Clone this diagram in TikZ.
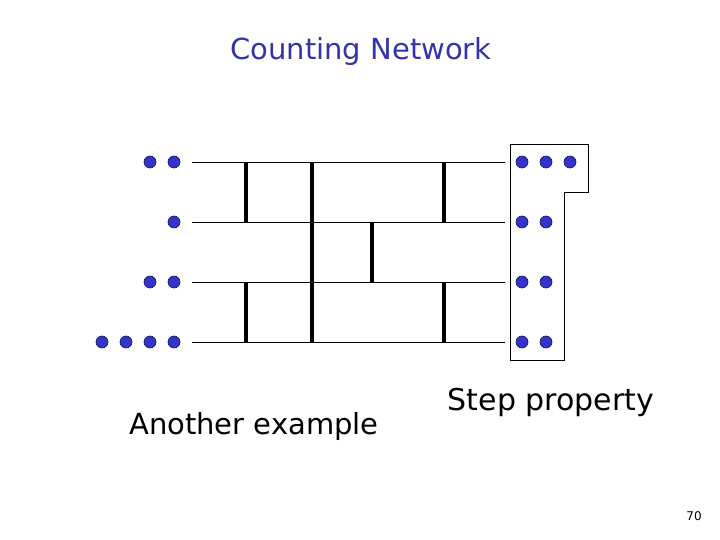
\documentclass[tikz,border=0pt]{standalone}
\usepackage{fontspec}
\setmainfont{DejaVu Sans}
\usepackage{xcolor}
\usetikzlibrary{positioning}
\definecolor{tokenblue}{RGB}{51,51,204}
\definecolor{tokenedge}{RGB}{20,20,90}
\definecolor{titleblue}{RGB}{51,51,170}

\begin{document}
\begin{tikzpicture}[
        x=1pt, y=-1pt,
        dot/.style={circle, draw=tokenedge, fill=tokenblue, line width=0.6pt,
            inner sep=0pt, minimum size=12pt},
        wire/.style={line width=0.9pt},
        bal/.style={line width=3.3pt},
        label/.style={font=\fontsize{29}{32}\selectfont}
    ]
        \useasboundingbox (0,0) rectangle (720,540);
        \node[label, text=titleblue] (title) at (361,52) {Counting Network};

        % wires
        \foreach \i/\y in {1/162,2/222,3/282,4/342} {
            \coordinate (w\i s) at (192,\y);
            \coordinate (w\i e) at (505,\y);
            \draw[wire] (w\i s) -- (w\i e);
        }

        % balancers
        \coordinate (a1) at (246,162); \coordinate (a2) at (246,222);
        \coordinate (a3) at (246,282); \coordinate (a4) at (246,342);
        \coordinate (b1) at (312,162); \coordinate (b4) at (312,342);
        \coordinate (c2) at (372,222); \coordinate (c3) at (372,282);
        \coordinate (d1) at (444,162); \coordinate (d2) at (444,222);
        \coordinate (d3) at (444,282); \coordinate (d4) at (444,342);
        \draw[bal] (a1) -- (a2);
        \draw[bal] (a3) -- (a4);
        \draw[bal] (b1) -- (b4);
        \draw[bal] (c2) -- (c3);
        \draw[bal] (d1) -- (d2);
        \draw[bal] (d3) -- (d4);

        % tokens in
        \node[dot] (in11) at (150,162) {};
        \node[dot] (in12) at (174,162) {};
        \node[dot] (in21) at (174,222) {};
        \node[dot] (in31) at (150,282) {};
        \node[dot] (in32) at (174,282) {};
        \foreach \x [count=\k] in {102,126,150,174}
            \node[dot] (in4\k) at (\x,342) {};

        % tokens out
        \foreach \x [count=\k] in {522,546,570}
            \node[dot] (out1\k) at (\x,162) {};
        \foreach \r/\y in {2/222,3/282,4/342}
            \foreach \x [count=\k] in {522,546}
                \node[dot] (out\r\k) at (\x,\y) {};

        \coordinate (s1) at (510,144); \coordinate (s2) at (588,144);
        \coordinate (s3) at (588,192); \coordinate (s4) at (564,192);
        \coordinate (s5) at (564,360); \coordinate (s6) at (510,360);
        \draw[line width=0.8pt] (s1) -- (s2) -- (s3) -- (s4) -- (s5) -- (s6) -- cycle;

        \node[label] (another) at (254,426) {Another example};
        \node[label, font=\fontsize{30}{33}\selectfont] (stepprop) at (551,402) {Step property};
        \node[font=\fontsize{12}{14}\selectfont] (pagenum) at (694,516) {70};
    \end{tikzpicture}
\end{document}
